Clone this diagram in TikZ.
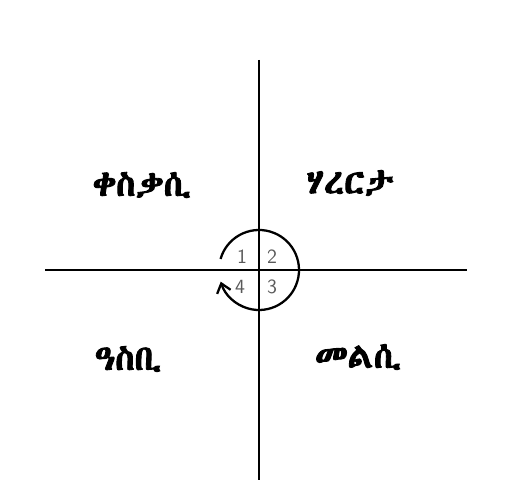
\documentclass[tikz,border=0pt]{standalone}
\usepackage{fontspec}
\usetikzlibrary{arrows.meta}
\IfFontExistsTF{Abyssinica SIL}
  {\newfontfamily\ethfont[Script=Ethiopic,FakeBold=2.5]{Abyssinica SIL}}
  {\IfFontExistsTF{FreeSerif}
    {\newfontfamily\ethfont[FakeBold=2.5]{FreeSerif}}
    {\newfontfamily\ethfont{DejaVu Sans}}}
\tikzset{
  quad/.style={font=\ethfont\fontsize{20}{24}\selectfont},
  num/.style={font=\sffamily\fontsize{11.5}{13}\selectfont, text=black!65}
}
\begin{document}
\begin{tikzpicture}[x=0.02cm,y=0.02cm,line width=1.1pt]
            \useasboundingbox (0,0) rectangle (517,503);
            \coordinate (top) at (259,443);
            \coordinate (bottom) at (259,23);
            \coordinate (left) at (45,233);
            \coordinate (right) at (467,233);
            \coordinate (o) at (259,233);

            \draw (top) -- (bottom);
            \draw (left) -- (right);

            \node[quad] (cue) at (142,318) {ቀስቃሲ};
            \node[quad] (craving) at (350,320) {ሃረርታ};
            \node[quad] (reward) at (128,144) {ዓስቢ};
            \node[quad] (response) at (358,146) {መልሲ};

            \node[num] (n1) at (242,246) {1};
            \node[num] (n2) at (272,246) {2};
            \node[num] (n3) at (272,216) {3};
            \node[num] (n4) at (240,216) {4};

            \draw[line width=1.3pt,-{Straight Barb[length=5pt,width=8pt]}] (o) ++(164:40) arc (164:-163:40);
        \end{tikzpicture}
\end{document}
